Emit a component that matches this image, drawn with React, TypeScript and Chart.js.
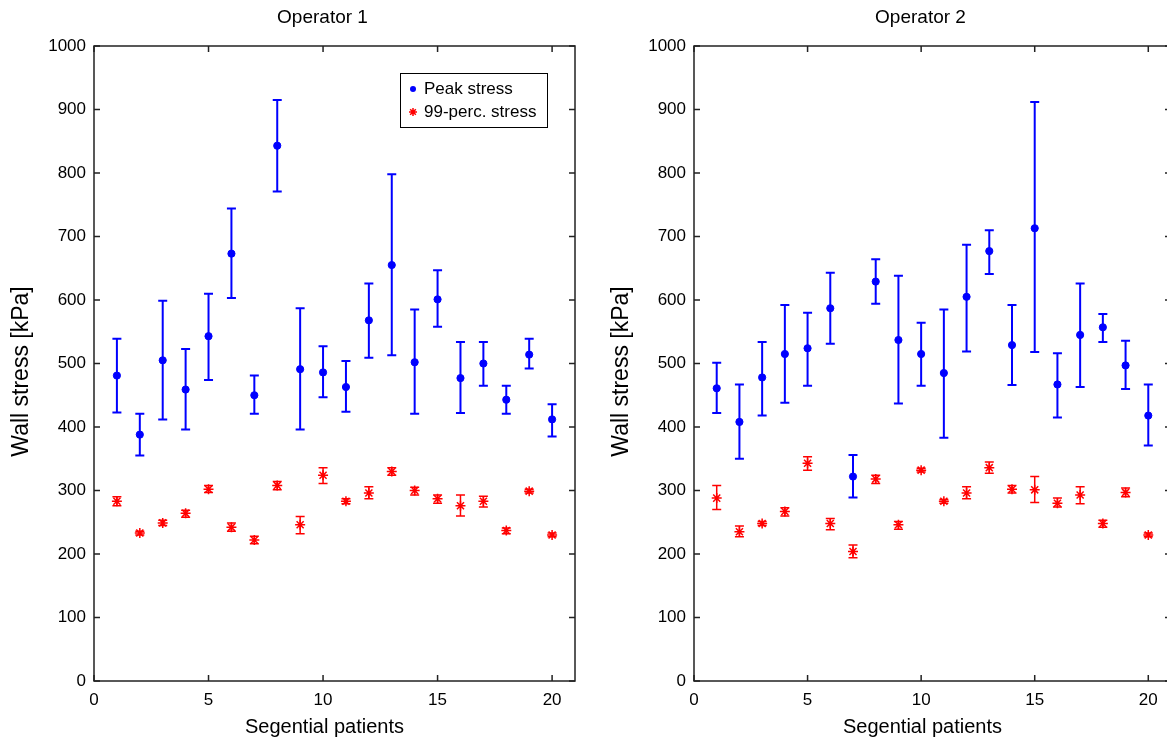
import React, { useEffect, useRef } from "react";
import { Chart, registerables } from "chart.js";
Chart.register(...registerables);

const patients = [1, 2, 3, 4, 5, 6, 7, 8, 9, 10, 11, 12, 13, 14, 15, 16, 17, 18, 19, 20];
const xTicks = [0, 5, 10, 15, 20];
const yTicks = [0, 100, 200, 300, 400, 500, 600, 700, 800, 900, 1000];

const op1Peak = [481, 388, 505, 459, 543, 673, 450, 843, 491, 486, 463, 568, 655, 502, 601, 477, 500, 443, 514, 412];
const op1PeakLo = [423, 355, 412, 396, 474, 603, 421, 771, 396, 447, 424, 509, 513, 421, 558, 422, 465, 421, 492, 385];
const op1PeakHi = [539, 421, 599, 523, 610, 744, 481, 915, 587, 527, 504, 626, 798, 585, 647, 534, 534, 465, 539, 436];
const op1P99 = [283, 233, 249, 264, 302, 242, 222, 308, 246, 324, 283, 296, 330, 300, 287, 276, 283, 237, 299, 230];
const op1P99Lo = [276, 230, 245, 258, 297, 236, 216, 301, 232, 311, 279, 287, 324, 293, 280, 260, 274, 232, 296, 227];
const op1P99Hi = [290, 236, 253, 269, 308, 249, 228, 314, 259, 336, 287, 306, 336, 305, 293, 293, 291, 241, 302, 233];

const op2Peak = [461, 408, 478, 515, 524, 587, 322, 629, 537, 515, 485, 605, 677, 529, 713, 467, 545, 557, 497, 418];
const op2PeakLo = [422, 350, 418, 438, 465, 531, 289, 594, 437, 465, 383, 519, 641, 466, 518, 415, 463, 534, 460, 371];
const op2PeakHi = [501, 467, 534, 592, 580, 643, 356, 664, 638, 564, 585, 687, 710, 592, 912, 516, 626, 578, 536, 467];
const op2P99 = [288, 235, 248, 267, 343, 248, 204, 318, 246, 332, 283, 296, 336, 302, 301, 280, 293, 248, 297, 230];
const op2P99Lo = [270, 227, 245, 260, 332, 238, 194, 311, 239, 329, 280, 287, 327, 296, 281, 274, 279, 242, 290, 227];
const op2P99Hi = [308, 244, 251, 273, 353, 256, 214, 324, 251, 335, 286, 306, 345, 308, 322, 288, 306, 253, 304, 233];

const legendLabels = ["Peak stress", "99-perc. stress"];
const titles = ["Operator 1", "Operator 2"];
const xTitle = "Segential patients";
const yTitle = "Wall stress [kPa]";

const FONT = "'Liberation Sans', Arial, sans-serif";
const BLUE = "#0000ff";
const RED = "#ff0000";
const AXIS = "#222222";

const decorPlugin = {
  id: "decor",
  beforeDatasetsDraw(chart: any) {
    const ctx = chart.ctx;
    const xs = chart.scales.x;
    const ys = chart.scales.y;
    chart.data.datasets.forEach((ds: any) => {
      ctx.save();
      ctx.strokeStyle = ds.borderColor;
      ctx.lineWidth = ds.errWidth;
      const cap = 4.5;
      ds.data.forEach((pt: any, i: number) => {
        const px = xs.getPixelForValue(pt.x);
        const lo = ys.getPixelForValue(ds.errLo[i]);
        const hi = ys.getPixelForValue(ds.errHi[i]);
        ctx.beginPath();
        ctx.moveTo(px, lo);
        ctx.lineTo(px, hi);
        ctx.moveTo(px - cap, lo);
        ctx.lineTo(px + cap, lo);
        ctx.moveTo(px - cap, hi);
        ctx.lineTo(px + cap, hi);
        ctx.stroke();
      });
      ctx.restore();
    });
  },
  afterDraw(chart: any) {
    const ctx = chart.ctx;
    const a = chart.chartArea;
    const xs = chart.scales.x;
    const ys = chart.scales.y;
    const opts = chart.options.plugins.decor;
    ctx.save();
    // box
    ctx.strokeStyle = AXIS;
    ctx.lineWidth = 1.5;
    ctx.strokeRect(a.left, a.top, a.right - a.left, a.bottom - a.top);
    // inward ticks
    const tl = 6;
    ctx.beginPath();
    xs.ticks.forEach((t: any) => {
      const px = xs.getPixelForValue(t.value);
      ctx.moveTo(px, a.bottom);
      ctx.lineTo(px, a.bottom - tl);
      ctx.moveTo(px, a.top);
      ctx.lineTo(px, a.top + tl);
    });
    ys.ticks.forEach((t: any) => {
      const py = ys.getPixelForValue(t.value);
      ctx.moveTo(a.left, py);
      ctx.lineTo(a.left + tl, py);
      ctx.moveTo(a.right, py);
      ctx.lineTo(a.right - tl, py);
    });
    ctx.stroke();

    const mid = (a.left + a.right) / 2;
    ctx.fillStyle = "#000";
    ctx.textAlign = "center";
    ctx.textBaseline = "middle";
    ctx.font = `19px ${FONT}`;
    ctx.fillText(opts.title, mid - 12, 18);
    ctx.font = `20px ${FONT}`;
    ctx.fillText(xTitle, mid - 10, 727);
    ctx.save();
    ctx.translate(a.left - 72, (a.top + a.bottom) / 2 + 8);
    ctx.rotate(-Math.PI / 2);
    ctx.font = `23px ${FONT}`;
    ctx.fillText(yTitle, 0, 0);
    ctx.restore();

    if (opts.legend) {
      const lx = 400, ly = 73, lw = 147, lh = 54;
      ctx.fillStyle = "#fff";
      ctx.fillRect(lx, ly, lw, lh);
      ctx.strokeStyle = "#000";
      ctx.lineWidth = 1;
      ctx.strokeRect(lx + 0.5, ly + 0.5, lw, lh);
      ctx.textAlign = "left";
      ctx.fillStyle = "#000";
      ctx.font = `17px ${FONT}`;
      ctx.fillText(legendLabels[0], lx + 24, ly + 16);
      ctx.fillText(legendLabels[1], lx + 24, ly + 39);
      ctx.fillStyle = BLUE;
      ctx.beginPath();
      ctx.arc(lx + 13, ly + 16, 3, 0, Math.PI * 2);
      ctx.fill();
      ctx.strokeStyle = RED;
      ctx.lineWidth = 1.5;
      const cx = lx + 13, cy = ly + 39, r = 4;
      ctx.beginPath();
      ctx.moveTo(cx - r, cy); ctx.lineTo(cx + r, cy);
      ctx.moveTo(cx, cy - r); ctx.lineTo(cx, cy + r);
      const d = r * 0.707;
      ctx.moveTo(cx - d, cy - d); ctx.lineTo(cx + d, cy + d);
      ctx.moveTo(cx - d, cy + d); ctx.lineTo(cx + d, cy - d);
      ctx.stroke();
    }
    ctx.restore();
  },
};

function makeConfig(peak: number[], peakLo: number[], peakHi: number[], p99: number[], p99Lo: number[], p99Hi: number[], title: string, legend: boolean, padRight: number): any {
  const tickFont = { family: FONT, size: 17 };
  return {
    type: "scatter",
    data: {
      datasets: [
        {
          label: legendLabels[0],
          data: patients.map((p, i) => ({ x: p, y: peak[i] })),
          errLo: peakLo,
          errHi: peakHi,
          errWidth: 2,
          pointStyle: "circle",
          pointRadius: 3.6,
          backgroundColor: BLUE,
          borderColor: BLUE,
          borderWidth: 1,
        },
        {
          label: legendLabels[1],
          data: patients.map((p, i) => ({ x: p, y: p99[i] })),
          errLo: p99Lo,
          errHi: p99Hi,
          errWidth: 1.5,
          pointStyle: "star",
          pointRadius: 5,
          backgroundColor: RED,
          borderColor: RED,
          borderWidth: 1.5,
        },
      ],
    },
    options: {
      animation: false,
      responsive: false,
      events: [],
      layout: { padding: { top: 46, right: padRight, left: 0, bottom: 0 } },
      plugins: {
        legend: { display: false },
        tooltip: { enabled: false },
        title: { display: false },
        decor: { title, legend },
      },
      scales: {
        x: {
          type: "linear",
          min: 0,
          max: 21,
          afterBuildTicks: (s: any) => { s.ticks = xTicks.map((v) => ({ value: v })); },
          afterFit: (s: any) => { s.height = 56; },
          grid: { display: false, drawTicks: false },
          border: { display: false },
          ticks: { font: tickFont, color: "#000", padding: 9, maxRotation: 0, autoSkip: false, callback: (v: any) => String(v) },
        },
        y: {
          type: "linear",
          min: 0,
          max: 1000,
          afterBuildTicks: (s: any) => { s.ticks = yTicks.map((v) => ({ value: v })); },
          afterFit: (s: any) => { s.width = 94; },
          grid: { display: false, drawTicks: false },
          border: { display: false },
          ticks: { font: tickFont, color: "#000", padding: 8, autoSkip: false, callback: (v: any) => String(v) },
        },
      },
    },
    plugins: [decorPlugin],
  };
}

export default function App() {
  const c1 = useRef<HTMLCanvasElement | null>(null);
  const c2 = useRef<HTMLCanvasElement | null>(null);
  useEffect(() => {
    const ch1 = new Chart(c1.current as HTMLCanvasElement, makeConfig(op1Peak, op1PeakLo, op1PeakHi, op1P99, op1P99Lo, op1P99Hi, titles[0], true, 25));
    const ch2 = new Chart(c2.current as HTMLCanvasElement, makeConfig(op2Peak, op2PeakLo, op2PeakHi, op2P99, op2P99Lo, op2P99Hi, titles[1], false, 29));
    return () => { ch1.destroy(); ch2.destroy(); };
  }, []);
  return (
    <div style={{ position: "fixed", left: 0, top: 0, width: 1167, height: 737, overflow: "hidden", background: "#fff" }}>
      <canvas ref={c1} width={600} height={737} style={{ position: "absolute", left: 0, top: 0, width: 600, height: 737 }} />
      <canvas ref={c2} width={600} height={737} style={{ position: "absolute", left: 600, top: 0, width: 600, height: 737 }} />
    </div>
  );
}
